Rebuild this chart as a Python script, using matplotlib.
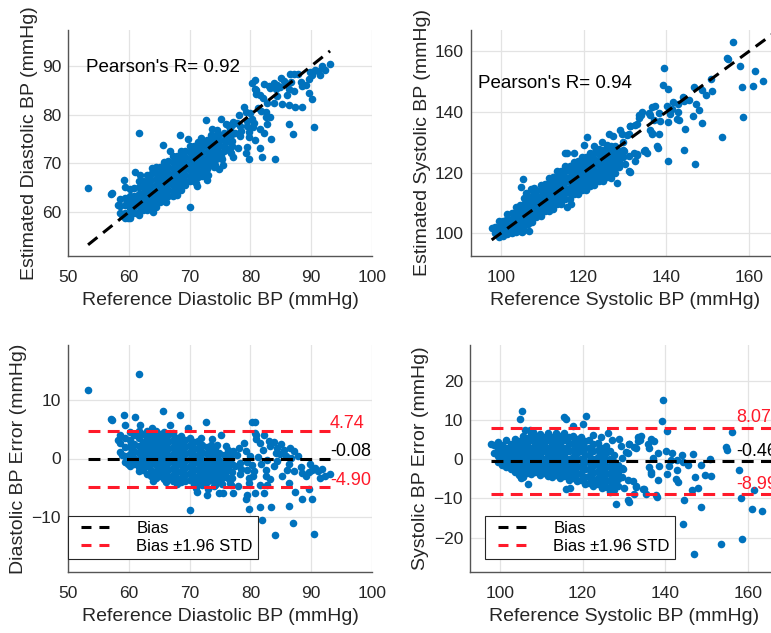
import numpy as np
import matplotlib
matplotlib.use("Agg")
import matplotlib.pyplot as plt
from matplotlib.lines import Line2D

plt.rcParams['font.family'] = ['Liberation Sans', 'DejaVu Sans']

# ---------------- data ----------------
# Diastolic: dense core, by reference column -> list of errors (est - ref)
dia_core_ref = [58.6, 59.4, 60.2, 60.9, 61.6, 62.3, 63.0, 63.7, 64.4, 65.1, 65.8, 66.5,
                67.2, 67.9, 68.6, 69.3, 70.0, 70.7, 71.4, 72.1, 72.8, 73.5, 74.2, 74.9,
                75.6, 76.3, 77.0]
dia_core_err = [
    [4.1, 2.6, 1.2],
    [3.6, 2.0, 0.4, -0.6],
    [4.6, 3.1, 1.9, 0.7, -0.5, -1.3],
    [4.0, 2.5, 1.3, 0.1, -1.0],
    [4.7, 3.5, 2.2, 1.0, -0.2, -1.5, -2.1],
    [4.2, 2.9, 1.6, 0.4, -0.8, -1.9],
    [4.7, 3.5, 2.3, 1.1, -0.1, -1.3, -2.6],
    [4.1, 2.9, 1.7, 0.5, -0.7, -1.9, -3.0],
    [4.8, 3.6, 2.4, 1.2, 0.0, -1.2, -2.4, -3.4],
    [4.2, 3.0, 1.8, 0.6, -0.6, -1.8, -3.0],
    [4.6, 3.4, 2.2, 1.0, -0.2, -1.4, -2.6, -3.6],
    [4.0, 2.8, 1.6, 0.4, -0.8, -2.0, -3.2],
    [4.3, 3.1, 1.9, 0.7, -0.5, -1.7, -2.9, -3.8],
    [3.6, 2.4, 1.2, 0.0, -1.2, -2.4, -3.5],
    [3.9, 2.7, 1.5, 0.3, -0.9, -2.1, -3.3, -4.0],
    [3.2, 2.0, 0.8, -0.4, -1.6, -2.8, -3.8],
    [3.5, 2.3, 1.1, -0.1, -1.3, -2.5, -3.7],
    [2.8, 1.6, 0.4, -0.8, -2.0, -3.2, -4.3],
    [3.0, 1.8, 0.6, -0.6, -1.8, -3.0, -4.1],
    [2.4, 1.2, 0.0, -1.2, -2.4, -3.6, -4.6],
    [2.0, 0.8, -0.4, -1.6, -2.8, -4.0],
    [2.3, 1.1, -0.1, -1.3, -2.5, -3.7],
    [1.4, 0.2, -1.0, -2.2, -3.4, -4.5],
    [1.0, -0.2, -1.4, -2.6, -3.8],
    [0.6, -0.8, -2.0, -3.1],
    [1.5, -0.4, -1.7, -3.3],
    [0.8, -1.0, -2.4],
]
# Diastolic: scattered points
dia_ref = [53.3, 61.7, 57.0, 57.3, 59.2, 61.1, 65.7, 68.4, 72.7, 80.8, 61.9, 59.4,
           63.8, 66.8, 69.8, 70.0, 79.7, 81.9, 84.1, 87.0, 90.4, 88.5, 90.1, 86.3,
           81.5, 83.4, 79.2, 79.5, 82.2, 80.8, 77.2, 74.8, 72.9, 71.2, 75.5, 87.4,
           89.6, 86.3, 93.1, 91.2, 90.7, 89.6, 88.5, 87.1, 86.0, 86.3, 85.5, 84.4,
           84.9, 83.3, 82.2, 80.8, 81.0, 82.7, 83.8, 82.5, 80.5, 79.7, 78.3, 81.6,
           82.7, 85.2, 84.4, 86.6, 77.2, 78.1, 79.2, 80.0, 78.3, 79.5, 77.5, 76.7,
           75.9, 76.7, 75.1, 74.0, 72.6, 74.5, 75.1, 73.7, 71.8, 87.1, 87.9,
           83.0, 83.8, 84.2, 85.0, 85.8, 86.5, 82.0, 81.5, 80.2, 81.0,
           76.0, 77.0, 77.8, 78.5, 79.0, 79.4, 79.8, 80.3, 80.6, 81.2, 81.8, 82.5,
           83.2, 78.0, 76.8, 75.4, 88.3, 89.2, 90.2, 91.5, 91.8, 92.2, 89.8,
           58.3, 58.9, 59.8, 60.4, 64.0, 66.2, 68.0, 71.0, 73.0]
dia_err = [11.7, 14.5, 6.8, 6.7, 7.5, 7.1, 8.1, 7.5, 6.3, 6.3, 5.7, 5.7,
           5.3, 5.8, 5.3, -8.9, -8.7, -10.6, -13.2, -11.0, -12.9, -7.0, -6.9, -8.2,
           -8.3, -8.3, -7.0, -6.2, -6.0, -5.9, -5.9, -6.0, -6.2, -5.8, -5.9, -5.8,
           -5.2, -4.2, -2.6, -2.2, -1.6, -2.3, -2.5, -2.2, -1.9, -1.0, 1.4, 1.8,
           0.7, 2.2, 4.1, 4.4, 3.3, -0.2, -1.3, -3.0, -3.0, -4.2, -2.7, -4.6,
           -4.5, -3.0, -0.5, 0.1, 1.3, 1.8, 1.3, 0.4, -0.7, -1.9, -1.3, 0.4,
           -2.5, -4.2, -3.6, -4.7, -4.2, 2.4, 4.1, 3.3, 3.5, 1.3, 0.4,
           3.0, 2.8, 1.0, 2.5, 0.5, 1.8, 1.5, 2.6, 6.3, 4.1,
           2.2, -3.4, 0.6, -1.8, 2.6, -0.6, -3.4, -1.2, -2.2, 0.2, -1.0, -2.0,
           -3.6, -4.8, -4.6, -4.4, -1.5, -3.0, -2.0, -3.4, -1.8, -3.0, -1.0,
           3.2, 0.6, -0.9, 2.6, -3.9, -4.1, -4.4, -5.0, -5.3]

# Systolic: dense core, by reference column -> list of errors
sys_core_ref = [98.6, 99.6, 100.6, 101.6, 102.6, 103.6, 104.6, 105.6, 106.6, 107.6,
                108.6, 109.6, 110.6, 111.6, 112.6, 113.6, 114.6, 115.6, 116.6, 117.6,
                118.6, 119.6, 120.6, 121.6, 122.6, 123.6, 124.6, 125.6, 126.6, 127.6,
                128.6, 129.6]
sys_core_err = [
    [3.6, 1.6],
    [4.4, 2.6, 0.8, -0.8],
    [3.6, 1.8, 0.0, -1.4],
    [4.8, 3.0, 1.2, -0.6, -2.0],
    [4.0, 2.2, 0.4, -1.4, -2.6],
    [5.2, 3.4, 1.6, -0.2, -2.0, -3.2],
    [4.6, 2.8, 1.0, -0.8, -2.6, -4.0],
    [6.0, 4.2, 2.4, 0.6, -1.2, -3.0, -4.4],
    [5.4, 3.6, 1.8, 0.0, -1.8, -3.6],
    [6.6, 4.8, 3.0, 1.2, -0.6, -2.4, -3.8],
    [5.8, 4.0, 2.2, 0.4, -1.4, -3.2],
    [6.4, 4.6, 2.8, 1.0, -0.8, -2.6, -4.0],
    [5.6, 3.8, 2.0, 0.2, -1.6, -3.4],
    [6.6, 4.8, 3.0, 1.2, -0.6, -2.4, -4.2],
    [5.8, 4.0, 2.2, 0.4, -1.4, -3.2, -4.6],
    [6.8, 5.0, 3.2, 1.4, -0.4, -2.2, -4.0],
    [6.0, 4.2, 2.4, 0.6, -1.2, -3.0, -4.8],
    [6.6, 4.8, 3.0, 1.2, -0.6, -2.4, -4.2],
    [5.6, 3.8, 2.0, 0.2, -1.6, -3.4, -5.2],
    [6.0, 4.2, 2.4, 0.6, -1.2, -3.0, -4.8],
    [5.2, 3.4, 1.6, -0.2, -2.0, -3.8, -5.6],
    [5.6, 3.8, 2.0, 0.2, -1.6, -3.4, -5.2],
    [4.6, 2.8, 1.0, -0.8, -2.6, -4.4, -6.2],
    [4.8, 3.0, 1.2, -0.6, -2.4, -4.2, -6.0],
    [3.8, 2.0, 0.2, -1.6, -3.4, -5.2, -6.8],
    [4.2, 2.4, 0.6, -1.2, -3.0, -4.8, -6.4],
    [3.0, 1.2, -0.6, -2.4, -4.2, -6.0, -7.4],
    [3.4, 1.6, -0.2, -2.0, -3.8, -5.6, -7.2],
    [2.0, 0.2, -1.6, -3.4, -5.2, -7.0],
    [1.2, -0.6, -2.4, -4.2, -6.0, -7.8],
    [-1.4, -3.2, -5.0, -6.8],
    [0.4, -2.2, -4.4],
]
# Systolic: scattered points
sys_ref = [97.8, 105.4, 104.8, 115.4, 116.1, 120.7, 120.1, 117.7, 106.0, 107.2, 108.0,
           106.8, 116.1, 116.9, 128.1, 126.5, 105.2, 126.1, 124.5, 127.2, 122.5, 128.9,
           131.3, 133.3, 133.9, 132.5, 130.5, 130.9, 132.9, 134.5, 135.3, 137.8, 136.1,
           136.5, 136.5, 139.5, 139.2, 140.5, 156.2, 154.6, 155.0, 157.8, 161.4, 161.0,
           163.4, 158.6, 153.4, 147.0, 140.3, 144.2, 148.6, 144.6, 146.4, 147.9, 147.1,
           149.5, 151.1, 150.7, 148.7, 146.7, 143.9, 144.3, 145.5, 142.7, 143.1, 140.8,
           141.7, 140.1, 138.1, 136.9, 136.1, 137.3, 135.7, 136.5, 138.5, 140.5, 142.5,
           138.1, 137.9, 134.9, 132.9, 132.5, 130.9, 132.9, 133.3, 131.3, 130.9, 134.1,
           129.3, 129.7, 132.1, 130.1, 131.3, 142.9, 141.3, 158.3]
sys_err = [3.8, 12.4, 10.4, 10.9, 10.3, 11.0, 9.0, 8.6, 7.4, 7.4, 7.0,
           -6.2, -7.6, -7.4, -11.4, -8.4, -4.8, 6.7, 5.6, 4.8, 6.2, 5.3,
           4.0, 5.7, 5.0, 3.2, 1.9, -5.4, -6.7, -7.5, -8.8, -9.2, -2.0,
           -3.7, 5.1, 15.1, 9.7, 7.2, 7.0, 3.2, 2.4, -2.8, -7.9, -12.6,
           -13.3, -20.3, -21.7, -24.1, -16.5, -16.6, -12.3, -10.3, -7.8, -7.4, -4.4,
           -4.0, -4.2, 0.2, -1.5, 1.4, 1.0, -0.6, -1.5, -2.8, -5.8, -1.6,
           1.6, 2.0, 1.6, 0.4, 3.0, 4.7, 3.9, -3.3, -1.6, -3.8, -5.0,
           -5.4, -9.7, -7.5, -7.1, -8.8, -10.5, 3.0, 4.7, 3.9, 1.7, 6.0,
           3.4, -2.6, -5.6, -7.3, -11.0, -0.2, -0.2, -10.0]

dia_bias, dia_upper, dia_lower = -0.08, 4.74, -4.90
sys_bias, sys_upper, sys_lower = -0.46, 8.07, -8.99
dia_r_text = "Pearson's R= 0.92"
sys_r_text = "Pearson's R= 0.94"
legend_labels = ['Bias', 'Bias \u00b11.96 STD']

# ---------------- assemble ----------------
def assemble(core_ref, core_err, ref, err):
    r = list(ref)
    e = list(err)
    for x, col in zip(core_ref, core_err):
        r += [x] * len(col)
        e += col
    return np.array(r), np.array(e)

dref, derr = assemble(dia_core_ref, dia_core_err, dia_ref, dia_err)
sref, serr = assemble(sys_core_ref, sys_core_err, sys_ref, sys_err)
dest = dref + derr
sest = sref + serr

# ---------------- style ----------------
BLUE = '#0072BD'
DARK = '#262626'
GRID = '#e3e3e3'
RED = '#ff1a2a'
FS_TICK = 12.5
FS_LAB = 14
FS_TXT = 13
FS_LEG = 12

fig = plt.figure(figsize=(7.71, 6.33), dpi=100)
W, H = 771, 633

def px_axes(l, t, r, b):
    return fig.add_axes([l / W, 1 - b / H, (r - l) / W, (b - t) / H])

ax_tl = px_axes(68, 30, 372, 256)
ax_tr = px_axes(471, 30, 779, 256)
ax_bl = px_axes(68, 345, 372, 572)
ax_br = px_axes(470, 345, 778, 572)

def style(ax):
    for s in ['top', 'right']:
        ax.spines[s].set_visible(False)
    for s in ['left', 'bottom']:
        ax.spines[s].set_color('#555555')
        ax.spines[s].set_linewidth(1.0)
    ax.tick_params(direction='in', length=0, labelsize=FS_TICK, colors=DARK)
    ax.tick_params(axis='x', pad=10)
    ax.tick_params(axis='y', pad=5)
    ax.grid(True, color=GRID, linewidth=0.9)
    ax.set_axisbelow(True)

# dash pattern in units of line width (2.2 pt ~ 3 px): ~12 px dash, ~7 px gap
dash = dict(linestyle=(0, (3.9, 2.4)), linewidth=2.2)
# legend handle: leading gap, then two dashes
leg_dash = (3.27, (3.27, 2.61))
msize = 30

def add_legend(ax, x0):
    handles = [Line2D([], [], color='black', linewidth=2.2, linestyle=leg_dash),
               Line2D([], [], color=RED, linewidth=2.2, linestyle=leg_dash)]
    leg = ax.legend(handles, legend_labels, loc='lower left',
                    bbox_to_anchor=(x0, 0.057), fontsize=FS_LEG, frameon=True,
                    fancybox=False, edgecolor=DARK, framealpha=1, handlelength=2.2,
                    borderpad=0.3, labelspacing=0.2, handletextpad=1.6,
                    borderaxespad=0)
    leg.get_frame().set_linewidth(0.8)
    leg.set_zorder(5)

# top-left
ax = ax_tl
style(ax)
ax.scatter(dref, dest, s=msize, color=BLUE, linewidths=0, zorder=2)
lo, hi = dref.min(), dref.max()
ax.plot([lo, hi], [lo, hi], color='black', zorder=3, **dash)
ax.set_xlim(50, 100)
ax.set_ylim(51, 97.4)
ax.set_xticks([50, 60, 70, 80, 90, 100])
ax.set_yticks([60, 70, 80, 90])
ax.text(53.0, 89.6, dia_r_text, fontsize=FS_TXT + 0.5, color='black', va='center', ha='left')
ax.set_xlabel('Reference Diastolic BP (mmHg)', fontsize=FS_LAB, color=DARK, labelpad=5)
ax.set_ylabel('Estimated Diastolic BP (mmHg)', fontsize=FS_LAB, color=DARK, labelpad=3)

# top-right
ax = ax_tr
style(ax)
ax.scatter(sref, sest, s=msize, color=BLUE, linewidths=0, zorder=2)
lo = sref.min()
ax.plot([lo, 175], [lo, 175], color='black', zorder=3, **dash)
ax.set_xlim(92.8, 167.2)
ax.set_ylim(92.5, 167)
ax.set_xticks([100, 120, 140, 160])
ax.set_yticks([100, 120, 140, 160])
ax.text(94.6, 149.5, sys_r_text, fontsize=FS_TXT + 0.5, color='black', va='center', ha='left')
ax.set_xlabel('Reference Systolic BP (mmHg)', fontsize=FS_LAB, color=DARK, labelpad=5)
ax.set_ylabel('Estimated Systolic BP (mmHg)', fontsize=FS_LAB, color=DARK, labelpad=3)

# bottom-left
ax = ax_bl
style(ax)
ax.scatter(dref, derr, s=msize, color=BLUE, linewidths=0, zorder=2)
lo, hi = dref.min(), dref.max()
ax.plot([lo, hi], [dia_bias, dia_bias], color='black', zorder=3, **dash)
ax.plot([lo, hi], [dia_upper, dia_upper], color=RED, zorder=3, **dash)
ax.plot([lo, hi], [dia_lower, dia_lower], color=RED, zorder=3, **dash)
tx = 93.1
for val, col in [(dia_upper, RED), (dia_bias, 'black'), (dia_lower, RED)]:
    ax.annotate(f'{val:.2f}', (tx, val), xytext=(0, 7), textcoords='offset pixels',
                fontsize=FS_TXT, color=col, va='center', ha='left', zorder=4)
ax.set_xlim(50, 100)
ax.set_ylim(-19.5, 19.5)
ax.set_xticks([50, 60, 70, 80, 90, 100])
ax.set_yticks([-10, 0, 10])
ax.set_xlabel('Reference Diastolic BP (mmHg)', fontsize=FS_LAB, color=DARK, labelpad=5)
ax.set_ylabel('Diastolic BP Error (mmHg)', fontsize=FS_LAB, color=DARK, labelpad=3)
add_legend(ax, 0.0)

# bottom-right
ax = ax_br
style(ax)
ax.scatter(sref, serr, s=msize, color=BLUE, linewidths=0, zorder=2)
lo = sref.min()
ax.plot([lo, 175], [sys_bias, sys_bias], color='black', zorder=3, **dash)
ax.plot([lo, 175], [sys_upper, sys_upper], color=RED, zorder=3, **dash)
ax.plot([lo, 175], [sys_lower, sys_lower], color=RED, zorder=3, **dash)
tx = 157.0
for val, col in [(sys_upper, RED), (sys_bias, 'black'), (sys_lower, RED)]:
    ax.annotate(f'{val:.2f}', (tx, val), xytext=(0, 10), textcoords='offset pixels',
                fontsize=FS_TXT, color=col, va='center', ha='left', zorder=4)
ax.set_xlim(92.8, 167.2)
ax.set_ylim(-28.8, 29.2)
ax.set_xticks([100, 120, 140, 160])
ax.set_yticks([-20, -10, 0, 10, 20])
ax.set_xlabel('Reference Systolic BP (mmHg)', fontsize=FS_LAB, color=DARK, labelpad=5)
ax.set_ylabel('Systolic BP Error (mmHg)', fontsize=FS_LAB, color=DARK, labelpad=3)
add_legend(ax, 0.049)

fig.savefig('out.png', dpi=100, facecolor='white')
